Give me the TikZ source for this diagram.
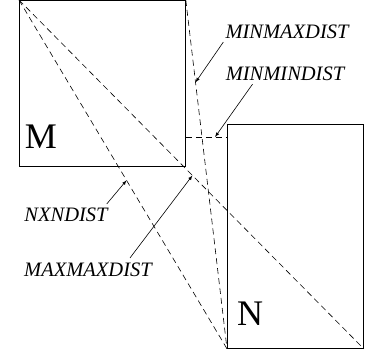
\documentclass[tikz,border=0pt]{standalone}
\usepackage{fontspec}
\setmainfont{Liberation Serif}
\usetikzlibrary{arrows}
\usetikzlibrary{math}

\begin{document}
\begin{tikzpicture}[x=1pt,y=-1pt]
\tikzmath{
\w=166;
\nw=136;
\nh=224;
}
\tikzset{
box/.style={draw,line width=0.8pt,inner sep=0pt,anchor=north west},
dist/.style={dashed,line width=0.6pt,dash pattern=on 6pt off 4pt},
lab/.style={font=\fontsize{20.5}{24}\selectfont\itshape,inner sep=0pt},
pointer/.style={-latex,line width=0.6pt}
}
\useasboundingbox (0,0) rectangle (367,360);

\node[box,minimum width=\w pt,minimum height=\w pt] (M) at (19,0) {};
\node[box,minimum width=\nw pt,minimum height=\nh pt] (N) at (227,124) {};
\node[font=\fontsize{36}{40}\selectfont] (Mlab) at (41,137) {M};
\node[font=\fontsize{36}{40}\selectfont] (Nlab) at (250,314) {N};

%%%%%%%%%%   distances
\draw[dist] (M.north west) -- (N.south east) coordinate[pos=0.503] (maxtip);
\draw[dist] (M.north west) -- (N.south west) coordinate[pos=0.517] (nxntip);
\draw[dist] (M.north east) -- (N.south west) coordinate[pos=0.236] (minmaxtip);
\coordinate (minminA) at (M.east |- 0,137);
\coordinate (minminB) at (N.west |- 0,137);
\draw[dist] (minminA) -- (minminB) coordinate[pos=0.71] (minmintip);

%%%%%%%%%%   labels
\node[lab] (minmax) at (287,32) {MINMAXDIST};
\node[lab] (minmin) at (285,74) {MINMINDIST};
\node[lab] (nxn) at (66,215) {NXNDIST};
\node[lab] (maxmax) at (88,270) {MAXMAXDIST};

\draw[pointer] ([shift={(-2,3)}]minmax.south west) -- (minmaxtip);
\draw[pointer] ([shift={(27,3)}]minmin.south west) -- (minmintip);
\draw[pointer] ([shift={(-1,-4)}]nxn.north east) -- (nxntip);
\draw[pointer] ([shift={(42,-5)}]maxmax.north) -- (maxtip);
\end{tikzpicture}
\end{document}
